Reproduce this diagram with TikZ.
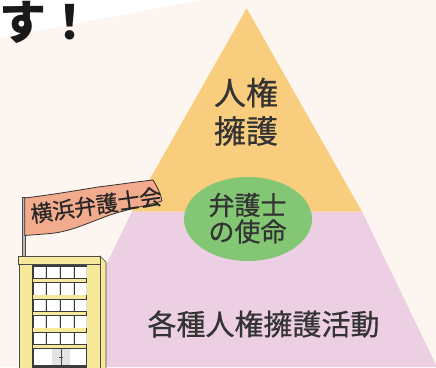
\documentclass[tikz,border=0pt]{standalone}
\usepackage{fontspec}
\newfontfamily\jp[FakeBold=0.6]{Noto Sans CJK JP}
\newfontfamily\jphead{Noto Sans CJK JP}
\definecolor{cream}{HTML}{FDF5EF}
\definecolor{apexorange}{HTML}{F9CD7E}
\definecolor{basepink}{HTML}{EDCFE3}
\definecolor{missiongreen}{HTML}{83C673}
\definecolor{flagsalmon}{HTML}{F2AB8C}
\definecolor{bldyellow}{HTML}{F6E99A}
\definecolor{bldline}{HTML}{4A4A4A}
\definecolor{bldframe}{HTML}{3C3C3C}
\definecolor{inktext}{HTML}{333333}
\tikzset{
  label/.style={inner sep=0pt, text=inktext, font=\jp},
  bldpart/.style={fill=bldyellow, draw=bldline, line width=0.6pt},
  pane/.style={fill=white},
}
\begin{document}
\begin{tikzpicture}[x=1pt, y=-1pt]
\useasboundingbox (0,0) rectangle (436,367);
\clip (0,0) rectangle (436,367);

% backdrop: white corner above a cream field
\fill[cream] (0,0) rectangle (436,367);
\fill[white] (0,0) -- (200,0) -- (0,38) -- cycle;

% heading tail
\node[inner sep=0pt, anchor=base west, font=\jphead\bfseries\fontsize{47}{47}\selectfont, text=black!90] (title) at (-1,39) {す！};

% pyramid: wide pink base, orange apex
\fill[basepink] (132,211.5) -- (362,211.5) -- (437,367) -- (57,367) -- cycle;
\fill[apexorange] (246.7,8.3) -- (361.9,211.5) -- (131.5,211.5) -- cycle;

% mission ellipse at the joint
\fill[missiongreen] (248,219) ellipse [x radius=64, y radius=42];

\node[label, font=\jp\fontsize{32}{32}\selectfont] (top1) at (246,92.5) {人権};
\node[label, font=\jp\fontsize{32}{32}\selectfont] (top2) at (246,131) {擁護};
\node[label, font=\jp\fontsize{26}{26}\selectfont] (mid1) at (247.5,205) {弁護士};
\node[label, font=\jp\fontsize{26}{26}\selectfont] (mid2) at (247.5,231.5) {の使命};
\node[label, font=\jp\fontsize{29}{29}\selectfont] (base) at (263.5,324) {各種人権擁護活動};

% flag pole and banner
\draw[fill=gray!55, draw=bldline, line width=0.5pt] (22,197) rectangle (25,257);
\draw[fill=flagsalmon, draw=black!80, line width=0.8pt]
  (24.7,198) .. controls (50,195) and (80,190) .. (98,187)
  .. controls (115,185) and (135,182) .. (153,180)
  .. controls (158,188) and (161,195) .. (162,201)
  .. controls (145,206) and (125,210) .. (110,215)
  .. controls (90,222) and (70,232) .. (50,233.5)
  .. controls (40,234.5) and (30,235) .. (24.7,235.5) -- cycle;
\node[label, text=black!85, rotate=8, font=\jp\fontsize{22}{22}\selectfont] (flagtext) at (96,205) {横浜弁護士会};

% office building
\draw[bldpart] (100,256) -- (106,262) -- (106,370) -- (100,370) -- cycle;
\draw[bldpart] (19.5,264) rectangle (100,370);
\fill[bldframe] (31.7,264) rectangle (87,370);
\draw[bldpart] (18,256) rectangle (100,264);
\foreach \i in {0,...,4}{
  \pgfmathsetmacro\wy{266.5+16.5*\i}
  \foreach \wx in {33.8,47.2,61.2,74.6}{
    \fill[pane] (\wx,\wy) rectangle ++(12.4,11.6);
    \fill[gray!28] (\wx+11.3,\wy) rectangle ++(1.1,11.6);
  }
  \fill[bldyellow] (32.5,\wy+12.4) rectangle (86.2,\wy+15.6);
}
% entrance floor
\fill[pane] (33.8,349.3) rectangle (86,365);
\fill[gray!22] (51.7,349.3) rectangle (70,365);
\draw[bldline, line width=0.5pt] (60.8,349.3) -- (60.8,365);
\draw[bldline, line width=0.6pt] (59,357) -- (62.6,357);
\fill[bldframe] (31.7,365) rectangle (87,370);
\end{tikzpicture}
\end{document}
